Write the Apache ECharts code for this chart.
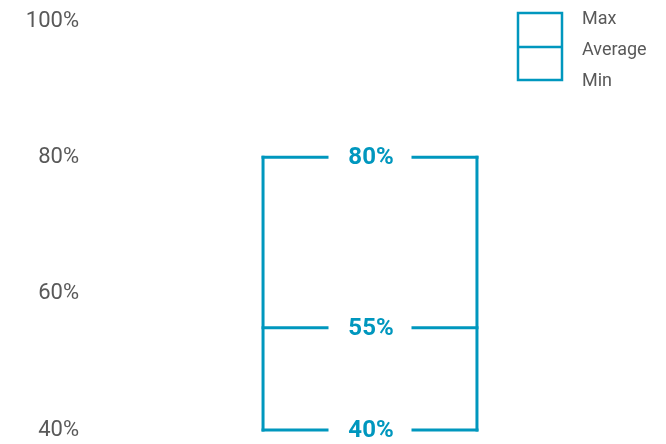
<!DOCTYPE html>
<html>
<head>
<meta charset="utf-8">
<script src="https://cdn.jsdelivr.net/npm/echarts@6/dist/echarts.min.js"></script>
<style>
  html, body { margin: 0; padding: 0; background: #fff; }
  #chart { width: 666px; height: 444px; }
</style>
</head>
<body>
<div id="chart"></div>
<script>
// 数据
const categories = ['Range']
const maxValues = [80]
const avgValues = [55]
const minValues = [40]
const seriesNames = ['Max', 'Average', 'Min']

// 颜色配置
const lineColor = '#0097be'
const textColor = '#595959'
const labelFont = 'Roboto, "Liberation Sans", sans-serif'

const boxRatio = 0.382
const labelGap = 43

// 画一条带标签缺口的横线
function renderLevel(params, api) {
  const c = api.coord([api.value(0), api.value(1)])
  const half = api.size([1, 0])[0] * boxRatio / 2
  const left = c[0] - half
  const right = c[0] + half
  const style = { stroke: lineColor, lineWidth: 3, lineCap: 'square' }
  return {
    type: 'group',
    children: [
      { type: 'line', shape: { x1: left, y1: c[1], x2: c[0] - labelGap, y2: c[1] }, style },
      { type: 'line', shape: { x1: c[0] + labelGap, y1: c[1], x2: right, y2: c[1] }, style },
      {
        type: 'text',
        style: {
          text: api.value(1) + '%',
          x: c[0] + 1,
          y: c[1] + 1,
          align: 'center',
          verticalAlign: 'middle',
          fill: lineColor,
          font: 'bold 24px ' + labelFont
        }
      }
    ]
  }
}

// 两侧竖线
function renderSides(params, api) {
  const top = api.coord([api.value(0), api.value(2)])
  const bottom = api.coord([api.value(0), api.value(1)])
  const half = api.size([1, 0])[0] * boxRatio / 2
  const style = { stroke: lineColor, lineWidth: 3, lineCap: 'square' }
  return {
    type: 'group',
    children: [
      { type: 'line', shape: { x1: top[0] - half, y1: top[1], x2: bottom[0] - half, y2: bottom[1] }, style },
      { type: 'line', shape: { x1: top[0] + half, y1: top[1], x2: bottom[0] + half, y2: bottom[1] }, style }
    ]
  }
}

const chart = echarts.init(document.getElementById('chart'))

const option = {
  animation: false,
  grid: { left: 90, right: 16, top: 21, bottom: 14 },
  legend: {
    data: seriesNames,
    orient: 'vertical',
    left: 518,
    top: -1,
    itemWidth: 54,
    itemHeight: 31,
    itemGap: 0,
    icon: 'rect',
    itemStyle: { color: 'rgba(0,0,0,0)' },
    selectedMode: false,
    textStyle: { color: textColor, fontSize: 18, fontFamily: labelFont }
  },
  graphic: [
    {
      type: 'rect',
      shape: { x: 518, y: 13, width: 44, height: 67 },
      style: { fill: 'none', stroke: lineColor, lineWidth: 2.5 }
    },
    {
      type: 'line',
      shape: { x1: 518, y1: 47, x2: 562, y2: 47 },
      style: { stroke: lineColor, lineWidth: 2.5 }
    }
  ],
  xAxis: {
    type: 'category',
    data: categories,
    show: false
  },
  yAxis: {
    type: 'value',
    min: 40,
    max: 100,
    interval: 20,
    splitLine: { show: false },
    axisLine: { show: false },
    axisTick: { show: false },
    axisLabel: {
      formatter: '{value}%',
      margin: 11,
      color: textColor,
      fontSize: 22,
      fontFamily: labelFont
    }
  },
  series: [
    {
      name: 'Range',
      type: 'custom',
      renderItem: renderSides,
      data: categories.map((c, i) => [i, minValues[i], maxValues[i]])
    },
    {
      name: 'Max',
      type: 'custom',
      renderItem: renderLevel,
      data: categories.map((c, i) => [i, maxValues[i]])
    },
    {
      name: 'Average',
      type: 'custom',
      renderItem: renderLevel,
      data: categories.map((c, i) => [i, avgValues[i]])
    },
    {
      name: 'Min',
      type: 'custom',
      renderItem: renderLevel,
      data: categories.map((c, i) => [i, minValues[i]])
    }
  ]
}

chart.setOption(option)
</script>
</body>
</html>
